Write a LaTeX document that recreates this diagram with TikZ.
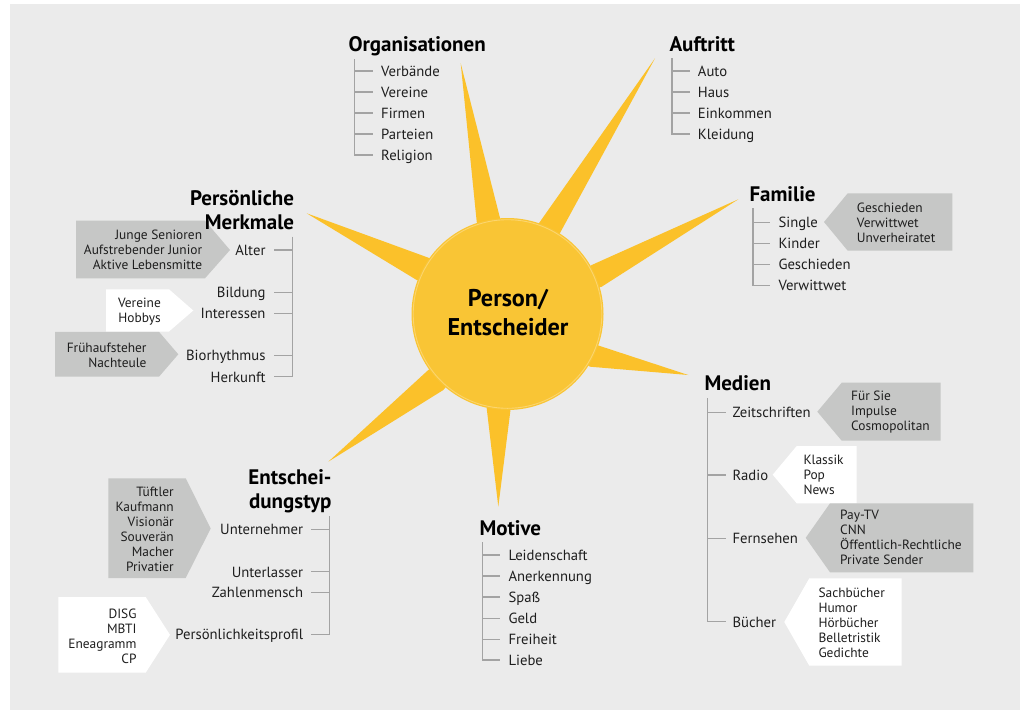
\documentclass[tikz,border=0pt]{standalone}
\usepackage{fontspec}
\setmainfont{PT Sans}
\definecolor{bggrey}{HTML}{EBEBEB}
\definecolor{treegrey}{HTML}{A3A3A3}
\definecolor{boxgrey}{HTML}{C6C7C6}
\definecolor{inkcol}{HTML}{1E1E1E}
\definecolor{raycol}{HTML}{FBC12A}
\definecolor{sunfill}{HTML}{F9C535}
\definecolor{sunring}{HTML}{FCD56E}
\begin{document}
\begin{tikzpicture}[x=1pt,y=-1pt,
  tree/.style={draw=treegrey, line width=1.2pt},
  item/.style={inner sep=0pt, text height=13pt, text depth=2pt,
               font=\fontsize{14.7}{21}\selectfont, text=inkcol},
  head/.style={inner sep=0pt, font=\bfseries\fontsize{21}{24.3}\selectfont},
  boxtext/.style={inner sep=0pt, font=\fontsize{13.4}{15}\selectfont, text=inkcol},
  greybox/.style={fill=boxgrey},
  whitebox/.style={fill=white},
  ray/.style={fill=raycol}
]
\useasboundingbox (0,0) rectangle (1025,710);
\fill[bggrey] (10,4) rectangle (1020,710);

% ---------- sun: rays, then the disc on top ----------
\coordinate (c) at (507.5,314);
\fill[ray] (460.7,63.3) -- (476.7,221.7) -- (c) -- (500,218) -- cycle;
\fill[ray] (655,58.3)   -- (539.3,222.7) -- (c) -- (560,233) -- cycle;
\fill[ray] (738.3,199.3) -- (591.7,265) -- (c) -- (601.7,286.7) -- cycle;
\fill[ray] (688.3,375)  -- (591.7,343.3) -- (c) -- (590,366.7) -- cycle;
\fill[ray] (498.3,506.7) -- (486.7,408.3) -- (c) -- (510.7,408.3) -- cycle;
\fill[ray] (328.3,461.7) -- (428.3,370) -- (c) -- (443.3,390) -- cycle;
\fill[ray] (306.7,213.3) -- (430,258.3) -- (c) -- (416.7,280) -- cycle;
\fill[sunfill] (c) circle (96);
\draw[sunring, line width=0.9pt] (c) circle (94.3);
\node[inner sep=0pt, align=center, font=\bfseries\fontsize{24.2}{29.4}\selectfont]
  (sun) at (508,312.5) {Person/\\Entscheider};

% ---------- Organisationen ----------
\node[head, anchor=base west] (orgH) at (348.3,51.7) {Organisationen};
\coordinate (orgV) at (354.3,59);
\node[item, anchor=west] (org1) at (381,71) {Verbände};
\node[item, anchor=west] (org2) at (381,92) {Vereine};
\node[item, anchor=west] (org3) at (381,113) {Firmen};
\node[item, anchor=west] (org4) at (381,134) {Parteien};
\node[item, anchor=west] (org5) at (381,155) {Religion};
\draw[tree] (orgV) |- ([xshift=-8pt]org5.west);
\foreach \i in {1,...,4} \draw[tree] (orgV |- org\i.west) -- ([xshift=-8pt]org\i.west);

% ---------- Auftritt ----------
\node[head, anchor=base west] (aufH) at (669.3,51.7) {Auftritt};
\coordinate (aufV) at (672,58.3);
\node[item, anchor=west] (auf1) at (697.7,71) {Auto};
\node[item, anchor=west] (auf2) at (697.7,92) {Haus};
\node[item, anchor=west] (auf3) at (697.7,113) {Einkommen};
\node[item, anchor=west] (auf4) at (697.7,134) {Kleidung};
\draw[tree] (aufV) |- ([xshift=-8pt]auf4.west);
\foreach \i in {1,...,3} \draw[tree] (aufV |- auf\i.west) -- ([xshift=-8pt]auf\i.west);

% ---------- Familie ----------
\fill[greybox] (824,222) -- (847.7,193.3) -- (952.3,193.3) -- (952.3,250.7) -- (847.7,250.7) -- cycle;
\node[boxtext, anchor=west, align=left] (famB) at (856.7,222.5) {Geschieden\\Verwittwet\\Unverheiratet};
\node[head, anchor=base west] (famH) at (749.3,201.7) {Familie};
\coordinate (famV) at (753,208.3);
\node[item, anchor=west] (fam1) at (778.3,222.3) {Single};
\node[item, anchor=west] (fam2) at (778.3,243.3) {Kinder};
\node[item, anchor=west] (fam3) at (778.3,264.2) {Geschieden};
\node[item, anchor=west] (fam4) at (778.3,285.2) {Verwittwet};
\draw[tree] (famV) |- ([xshift=-8pt]fam4.west);
\foreach \i in {1,...,3} \draw[tree] (famV |- fam\i.west) -- ([xshift=-8pt]fam\i.west);

% ---------- Medien ----------
\fill[greybox] (817.3,411.7) -- (841.7,382.7) -- (940.7,382.7) -- (940.7,440.7) -- (841.7,440.7) -- cycle;
\node[boxtext, anchor=west, align=left] (zeitB) at (851,412.5) {Für Sie\\Impulse\\Cosmopolitan};
\fill[whitebox] (772.7,474.7) -- (796.7,446) -- (856.7,446) -- (856.7,503.3) -- (796.7,503.3) -- cycle;
\node[boxtext, anchor=west, align=left] (radB) at (803.3,475.3) {Klassik\\Pop\\News};
\fill[greybox] (805.7,537.8) -- (830,503.3) -- (973.3,503.3) -- (973.3,572.3) -- (830,572.3) -- cycle;
\node[boxtext, anchor=west, align=left] (fernB) at (840,537.8) {Pay-TV\\CNN\\Öffentlich-Rechtliche\\Private Sender};
\fill[whitebox] (784.3,622) -- (809.3,578.3) -- (901.7,578.3) -- (901.7,665.7) -- (809.3,665.7) -- cycle;
\node[boxtext, anchor=west, align=left] (buchB) at (818.3,622.5) {Sachbücher\\Humor\\Hörbücher\\Belletristik\\Gedichte};
\node[head, anchor=base west] (medH) at (704.3,390) {Medien};
\coordinate (medV) at (707.3,398.3);
\node[item, anchor=west] (med1) at (732.3,412.3) {Zeitschriften};
\node[item, anchor=west] (med2) at (732.3,475) {Radio};
\node[item, anchor=west] (med3) at (732.3,538.3) {Fernsehen};
\node[item, anchor=west] (med4) at (732.3,621.7) {Bücher};
\draw[tree] (medV) |- ([xshift=-6.5pt]med4.west);
\foreach \i in {1,...,3} \draw[tree] (medV |- med\i.west) -- ([xshift=-6.5pt]med\i.west);

% ---------- Motive ----------
\node[head, anchor=base west] (motH) at (479.3,535) {Motive};
\coordinate (motV) at (482.3,542.3);
\node[item, anchor=west] (mot1) at (508.3,555) {Leidenschaft};
\node[item, anchor=west] (mot2) at (508.3,576) {Anerkennung};
\node[item, anchor=west] (mot3) at (508.3,597) {Spaß};
\node[item, anchor=west] (mot4) at (508.3,618.2) {Geld};
\node[item, anchor=west] (mot5) at (508.3,639.2) {Freiheit};
\node[item, anchor=west] (mot6) at (508.3,660) {Liebe};
\draw[tree] (motV) |- ([xshift=-8pt]mot6.west);
\foreach \i in {1,...,5} \draw[tree] (motV |- mot\i.west) -- ([xshift=-8pt]mot\i.west);

% ---------- Persönliche Merkmale ----------
\fill[greybox] (76,220.7) -- (205,220.7) -- (230,250) -- (205,278.3) -- (76,278.3) -- cycle;
\node[boxtext, anchor=east, align=right] (altB) at (202.3,250) {Junge Senioren\\Aufstrebender Junior\\Aktive Lebensmitte};
\fill[whitebox] (106,289.3) -- (169,289.3) -- (193.3,310.5) -- (169,331.5) -- (106,331.5) -- cycle;
\node[boxtext, anchor=east, align=right] (intB) at (161,311.5) {Vereine\\Hobbys};
\fill[greybox] (55,331.8) -- (159,331.8) -- (178.3,354.3) -- (159,376.7) -- (55,376.7) -- cycle;
\node[boxtext, anchor=east, align=right] (bioB) at (146.7,355.5) {Frühaufsteher\\Nachteule};
\node[head, anchor=base east, align=right] (merkH) at (294.3,229.3) {Persönliche\\Merkmale};
\coordinate (merkV) at (292.3,236.7);
\node[item, anchor=east] (mer1) at (265.7,250) {Alter};
\node[item, anchor=east] (mer2) at (265.7,292.3) {Bildung};
\node[item, anchor=east] (mer3) at (265.7,313.3) {Interessen};
\node[item, anchor=east] (mer4) at (265.7,355.3) {Biorhythmus};
\node[item, anchor=east] (mer5) at (265.7,376.7) {Herkunft};
\draw[tree] (merkV) |- ([xshift=8pt]mer5.east);
\foreach \i in {1,...,4} \draw[tree] (merkV |- mer\i.east) -- ([xshift=8pt]mer\i.east);

% ---------- Entscheidungstyp ----------
\fill[greybox] (108.3,478.3) -- (185.7,478.3) -- (210.7,528.5) -- (185.7,578) -- (108.3,578) -- cycle;
\node[boxtext, anchor=east, align=right] (untB) at (174,529.8) {Tüftler\\Kaufmann\\Visionär\\Souverän\\Macher\\Privatier};
\fill[whitebox] (58.3,597) -- (145.7,597) -- (170,634.8) -- (145.7,672.7) -- (58.3,672.7) -- cycle;
\node[boxtext, anchor=east, align=right] (profB) at (136.7,636.3) {DISG\\MBTI\\Eneagramm\\CP};
\node[head, anchor=base east, align=right] (entH) at (331.7,508.3) {Entschei-\\dungstyp};
\coordinate (entV) at (329.3,516);
\node[item, anchor=east] (ent1) at (303.3,529.3) {Unternehmer};
\node[item, anchor=east] (ent2) at (303.3,571.7) {Unterlasser};
\node[item, anchor=east] (ent3) at (303.3,592.3) {Zahlenmensch};
\node[item, anchor=east] (ent4) at (303.3,634.3) {Persönlichkeitsprofil};
\draw[tree] (entV) |- ([xshift=8pt]ent4.east);
\foreach \i in {1,...,3} \draw[tree] (entV |- ent\i.east) -- ([xshift=8pt]ent\i.east);
\end{tikzpicture}
\end{document}
